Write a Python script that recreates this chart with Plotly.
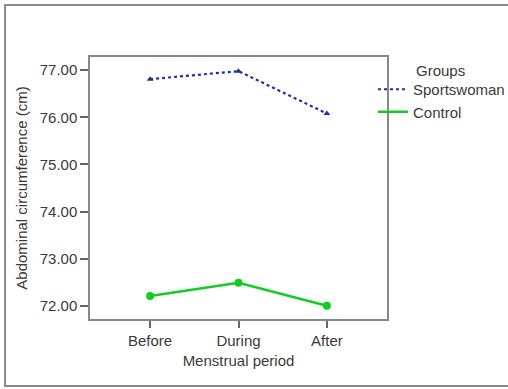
import plotly.graph_objects as go

periods = ["Before", "During", "After"]
sportswoman = [76.81, 76.98, 76.08]
control = [72.21, 72.49, 72.00]
y_ticks = [72, 73, 74, 75, 76, 77]
y_tick_labels = ["72.00", "73.00", "74.00", "75.00", "76.00", "77.00"]

FONT = "Liberation Sans, Arial, sans-serif"
TXT = "#3a3a3a"
FS = 15
BLUE = "#1f2fa0"
GREEN = "#11cc22"

fig = go.Figure()
fig.add_trace(go.Scatter(
    x=periods, y=sportswoman, name="Sportswoman", mode="lines",
    line=dict(color=BLUE, width=2.2, dash="dot"),
))
fig.add_trace(go.Scatter(
    x=periods, y=control, name="Control", mode="lines",
    line=dict(color=GREEN, width=2.5),
))
fig.add_trace(go.Scatter(
    x=periods, y=sportswoman, mode="markers", showlegend=False,
    marker=dict(symbol="triangle-up", size=6, color=BLUE),
))
fig.add_trace(go.Scatter(
    x=periods, y=control, mode="markers", showlegend=False,
    marker=dict(symbol="circle", size=8, color=GREEN),
))

fig.update_layout(
    width=508, height=389,
    margin=dict(l=90, r=121, t=57, b=70, autoexpand=False),
    paper_bgcolor="white", plot_bgcolor="white",
    font=dict(family=FONT, size=FS, color=TXT),
    showlegend=True,
    legend=dict(xref="container", yref="container", x=373 / 508, xanchor="left",
                y=1 - 73 / 389, yanchor="top",
                font=dict(family=FONT, size=FS, color=TXT),
                itemwidth=30, tracegroupgap=0, bgcolor="rgba(0,0,0,0)",
                borderwidth=0),
    xaxis=dict(
        type="category", range=[-0.68, 2.68],
        showgrid=False, zeroline=False, showline=True, linecolor="#888",
        linewidth=1.5, mirror=True, ticks="outside", ticklen=7, tickcolor="#666",
        tickwidth=1.5,
        title=dict(text="Menstrual period", standoff=8,
                   font=dict(family=FONT, size=FS, color=TXT)),
        tickfont=dict(family=FONT, size=FS, color=TXT),
    ),
    yaxis=dict(
        range=[71.72, 77.28], tickvals=y_ticks, ticktext=y_tick_labels,
        showgrid=False, zeroline=False, showline=True, linecolor="#888",
        linewidth=1.5, mirror=True, ticks="outside", ticklen=8, tickcolor="#666",
        tickwidth=1.5,
        title=dict(text="Abdominal circumference (cm)", standoff=8,
                   font=dict(family=FONT, size=FS, color=TXT)),
        tickfont=dict(family=FONT, size=FS, color=TXT),
    ),
    annotations=[dict(text="Groups", xref="paper", yref="paper", x=1.091, y=0.95,
                      xanchor="left", yanchor="middle", showarrow=False,
                      font=dict(family=FONT, size=FS, color=TXT))],
    shapes=[dict(type="rect", xref="paper", yref="paper",
                 x0=-0.286, x1=1.42, y0=-0.256, y1=1.198,
                 line=dict(color="#8a8a8a", width=2), layer="below")],
)

fig.write_html("out.html")
